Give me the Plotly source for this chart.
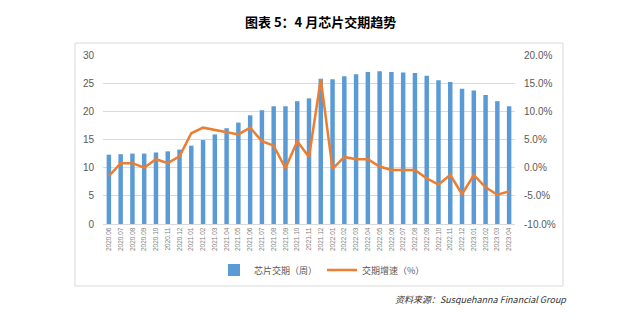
import plotly.graph_objects as go

months = ["2020.06", "2020.07", "2020.08", "2020.09", "2020.10", "2020.11", "2020.12",
          "2021.01", "2021.02", "2021.03", "2021.04", "2021.05", "2021.06", "2021.07",
          "2021.08", "2021.09", "2021.10", "2021.11", "2021.12", "2022.01", "2022.02",
          "2022.03", "2022.04", "2022.05", "2022.06", "2022.07", "2022.08", "2022.09",
          "2022.10", "2022.11", "2022.12", "2023.01", "2023.02", "2023.03", "2023.04"]

lead_time_weeks = [12.3, 12.4, 12.5, 12.5, 12.7, 12.9, 13.2, 13.9, 14.9, 15.9, 17.0, 18.0,
                   19.3, 20.2, 20.9, 20.9, 21.8, 22.3, 25.8, 25.7, 26.25, 26.6, 27.0, 27.1,
                   27.0, 26.9, 26.8, 26.3, 25.5, 25.2, 24.0, 23.7, 22.9, 21.8, 20.9]

growth_pct = [-1.5, 0.8, 0.8, 0.0, 1.5, 0.8, 2.0, 6.1, 7.1, 6.7, 6.25, 5.9, 7.1, 4.7, 3.9,
              -0.1, 4.7, 1.9, 15.7, -0.2, 1.9, 1.5, 1.5, 0.2, -0.4, -0.4, -0.4, -1.9, -3.0,
              -1.3, -4.7, -1.3, -3.5, -4.8, -4.2]

left_ticks = [0, 5, 10, 15, 20, 25, 30]
right_ticks = [-10, -5, 0, 5, 10, 15, 20]
right_ticktext = ["-10.0%", "-5.0%", "0.0%", "5.0%", "10.0%", "15.0%", "20.0%"]

title_text = "图表 5：4 月芯片交期趋势"
source_text = "资料来源：Susquehanna Financial Group"
bar_name = "芯片交期（周）"
line_name = "交期增速（%）"

W, H = 640, 331
ML, MR, MT, MB = 103, 125, 55, 107
PW, PH = W - ML - MR, H - MT - MB


def px_x(px):
    return (px - ML) / PW


def px_y(py):
    return (H - MB - py) / PH


FONT = "Noto Sans CJK SC, Liberation Sans, sans-serif"

fig = go.Figure()
fig.add_trace(go.Bar(x=months, y=lead_time_weeks, name=bar_name,
                     marker=dict(color="#5B9BD5", line=dict(width=0)), yaxis="y"))
fig.add_trace(go.Scatter(x=months, y=growth_pct, name=line_name, mode="lines",
                         line=dict(color="#ED7D31", width=2.5), yaxis="y2"))

fig.update_layout(
    width=W, height=H,
    margin=dict(l=ML, r=MR, t=MT, b=MB),
    paper_bgcolor="white", plot_bgcolor="white",
    bargap=0.62,
    font=dict(family=FONT, color="#595959", size=9),
    showlegend=True,
    legend=dict(orientation="h", x=px_x(322), y=px_y(270), xanchor="center", yanchor="middle",
                font=dict(size=9, color="#595959"), traceorder="normal",
                itemwidth=30, bgcolor="rgba(0,0,0,0)"),
    xaxis=dict(type="category", tickangle=-90, tickfont=dict(size=6.5, family="Liberation Sans", color="#7f7f7f"),
               showgrid=False, showline=True, linecolor="#d9d9d9", linewidth=1, ticks="",
               range=[-0.5, len(months) - 0.5]),
    yaxis=dict(range=[0, 30], tickvals=left_ticks, showgrid=True, gridcolor="#d9d9d9",
               gridwidth=1, zeroline=False, showline=False, ticks="",
               tickfont=dict(size=10, family="Liberation Sans", color="#595959"), ticklabelstandoff=8),
    yaxis2=dict(range=[-10, 20], tickvals=right_ticks, ticktext=right_ticktext, overlaying="y",
                side="right", showgrid=False, zeroline=False, showline=False, ticks="",
                tickfont=dict(size=10, family="Liberation Sans", color="#595959"), ticklabelstandoff=8),
    shapes=[dict(type="rect", xref="paper", yref="paper", x0=px_x(75), x1=px_x(563),
                 y0=px_y(286), y1=px_y(43), line=dict(color="#d9d9d9", width=1),
                 fillcolor="rgba(0,0,0,0)", layer="below")],
    annotations=[
        dict(text="<b>" + title_text + "</b>", xref="paper", yref="paper", x=px_x(320), y=px_y(21),
             xanchor="center", yanchor="middle", showarrow=False,
             font=dict(size=13, color="#000000", family=FONT)),
        dict(text="<i>" + source_text + "</i>", xref="paper", yref="paper", x=px_x(569), y=px_y(299),
             xanchor="right", yanchor="middle", showarrow=False,
             font=dict(size=9, color="#333333", family=FONT)),
    ],
)

fig.write_html("out.html")
